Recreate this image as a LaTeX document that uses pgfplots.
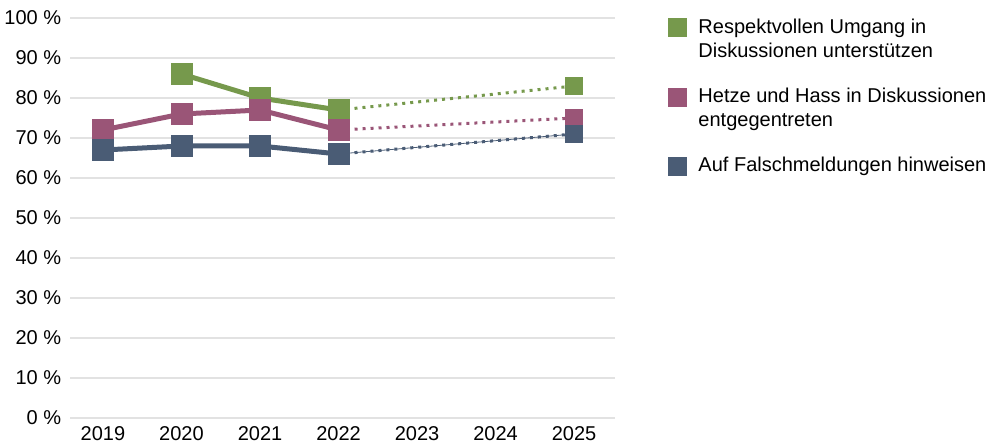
\documentclass[border=0pt]{standalone}
\usepackage{fontspec}
\setmainfont{Liberation Sans}
\usepackage{pgfplots}
\pgfplotsset{compat=1.18}

\definecolor{cgreen}{HTML}{76994C}
\definecolor{cpurple}{HTML}{9A5577}
\definecolor{cblue}{HTML}{4A5C75}
\definecolor{cgrid}{HTML}{E2E2E2}

\begin{document}
\begin{tikzpicture}
\fontsize{20bp}{24bp}\selectfont
\begin{axis}[
  scale only axis,
  width=545bp, height=400bp,
  xmin=2018.58, xmax=2025.52,
  ymin=0, ymax=100,
  axis line style={draw=none},
  xtick={2019,...,2025},
  ytick={0,10,...,100},
  xticklabels={2019,2020,2021,2022,2023,2024,2025},
  yticklabel={\pgfmathprintnumber{\tick}\;\%},
  /pgf/number format/assume math mode=true,
  ymajorgrids,
  major grid style={cgrid, line width=1.3bp},
  major tick length=0pt,
  xticklabel style={font=\fontsize{20bp}{24bp}\selectfont, yshift=-2bp},
  yticklabel style={font=\fontsize{20bp}{24bp}\selectfont, xshift=-2bp},
  legend style={at={(axis description cs:1.097,1.0)}, anchor=north west,
    draw=none, fill=none, inner sep=0pt, row sep=15bp, column sep=12bp,
    font=\fontsize{20bp}{24bp}\selectfont,
    nodes={inner sep=0pt},
    cells={anchor=west, align=left}},
  one line/.style={legend image code/.code={\fill[##1] (0bp,-9bp) rectangle (18bp,9bp);}},
  two lines/.style={legend image code/.code={\path (0bp,-33bp);\fill[##1] (0bp,3bp) rectangle (18bp,21bp);}},
  every mark/.append style={solid, line width=0pt},
]

% dotted projections 2022 -> 2025
\addplot[forget plot, cgreen, line width=3bp, dash pattern=on 3bp off 5bp]
  coordinates {(2022,77) (2025,83)};
\addplot[forget plot, cpurple, line width=3bp, dash pattern=on 3bp off 5bp]
  coordinates {(2022,72) (2025,75)};
\addplot[forget plot, cblue, line width=0.8bp]
  coordinates {(2022,66) (2025,71)};
\addplot[forget plot, cblue, line width=3bp, dash pattern=on 3bp off 5bp]
  coordinates {(2022,66) (2025,71)};

% Respektvollen Umgang
\addplot[forget plot, cgreen, line width=5bp, mark=square*, mark size=8.5bp]
  coordinates {(2020,86) (2021,80) (2022,77)};
\addplot[forget plot, cgreen, only marks, mark=square*, mark size=8.5bp]
  coordinates {(2025,83)};

% Hetze und Hass
\addplot[forget plot, cpurple, line width=5bp, mark=square*, mark size=8.5bp]
  coordinates {(2019,72) (2020,76) (2021,77) (2022,72)};
\addplot[forget plot, cpurple, only marks, mark=square*, mark size=8.5bp]
  coordinates {(2025,75)};

% Falschmeldungen
\addplot[forget plot, cblue, line width=5bp, mark=square*, mark size=8.5bp]
  coordinates {(2019,67) (2020,68) (2021,68) (2022,66)};
\addplot[forget plot, cblue, only marks, mark=square*, mark size=8.5bp]
  coordinates {(2025,71)};

\addlegendimage{cgreen, two lines}
\addlegendentry{Respektvollen Umgang in\\Diskussionen unterstützen}
\addlegendimage{cpurple, two lines}
\addlegendentry{Hetze und Hass in Diskussionen\\entgegentreten}
\addlegendimage{cblue, one line}
\addlegendentry{Auf Falschmeldungen hinweisen}
\end{axis}
\pgfresetboundingbox
\path (-70bp,-28bp) rectangle (927bp,418bp);
\end{tikzpicture}
\end{document}
